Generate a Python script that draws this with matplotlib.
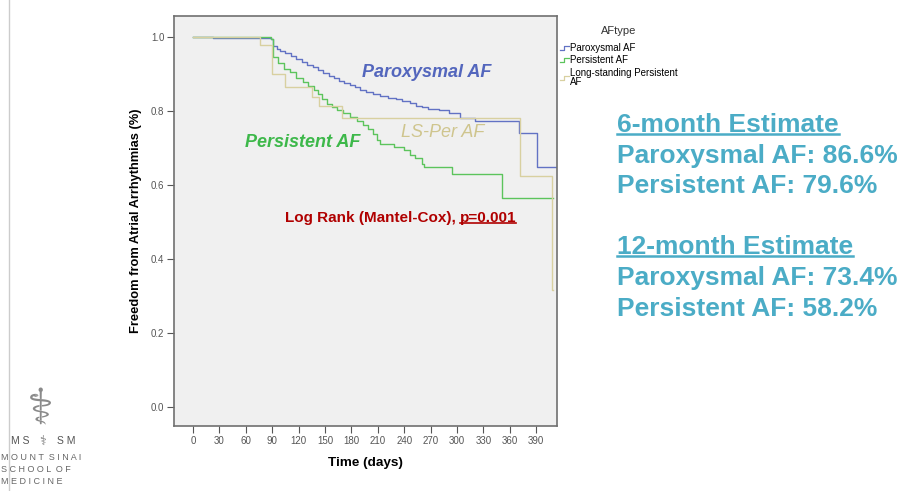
import matplotlib
matplotlib.use("Agg")
import matplotlib.pyplot as plt
from matplotlib.lines import Line2D
from matplotlib.legend_handler import HandlerBase

plt.rcParams['font.family'] = ['Liberation Sans', 'DejaVu Sans']

# Kaplan-Meier steps (days, freedom from AF)
parox_t = [0, 23, 89, 91, 95, 99, 105, 111, 117, 124, 130, 136, 142, 148, 154, 160, 166,
           172, 178, 184, 190, 197, 204, 212, 222, 231, 238, 246, 253, 260, 267, 280,
           291, 303, 320, 370, 391, 413]
parox_s = [1.0, 0.997, 0.994, 0.976, 0.968, 0.962, 0.956, 0.948, 0.940, 0.933, 0.925,
           0.918, 0.911, 0.903, 0.896, 0.890, 0.882, 0.876, 0.870, 0.864, 0.858, 0.851,
           0.846, 0.841, 0.836, 0.832, 0.828, 0.821, 0.815, 0.810, 0.806, 0.803, 0.796,
           0.780, 0.774, 0.740, 0.648, 0.648]

pers_t = [0, 89, 91, 97, 103, 110, 117, 125, 131, 137, 142, 147, 152, 158, 164, 171,
          178, 186, 193, 199, 204, 209, 213, 228, 240, 246, 252, 260, 262, 294, 351, 409]
pers_s = [1.0, 0.994, 0.945, 0.930, 0.915, 0.905, 0.890, 0.879, 0.868, 0.858, 0.845,
          0.832, 0.820, 0.810, 0.802, 0.794, 0.783, 0.772, 0.762, 0.752, 0.738, 0.722,
          0.710, 0.704, 0.695, 0.681, 0.672, 0.658, 0.650, 0.631, 0.564, 0.564]

lsper_t = [0, 76, 90, 104, 135, 143, 169, 372, 408, 409]
lsper_s = [1.0, 0.978, 0.900, 0.866, 0.839, 0.813, 0.780, 0.625, 0.316, 0.316]

group_names = ['Paroxysmal AF', 'Persistent AF', 'Long-standing Persistent\nAF']
group_colors = ['#6272C4', '#5CC45C', '#D8D0A0']

x_ticks = list(range(0, 391, 30))
y_ticks = [0.0, 0.2, 0.4, 0.6, 0.8, 1.0]

estimates = ['6-month Estimate', 'Paroxysmal AF: 86.6%', 'Persistent AF: 79.6%', '',
             '12-month Estimate', 'Paroxysmal AF: 73.4%', 'Persistent AF: 58.2%']

W, H = 916, 491
fig = plt.figure(figsize=(W / 100, H / 100), dpi=100)


def fx(px):
    return px / W


def fy(py):
    return 1 - py / H


ax = fig.add_axes([fx(174), fy(426), fx(557) - fx(174), fy(16) - fy(426)])
ax.set_facecolor('#F0F0F0')

for t, s, c in zip([parox_t, pers_t, lsper_t], [parox_s, pers_s, lsper_s], group_colors):
    ax.step(t, s, where='post', color=c, lw=1.0)

ax.set_xlim(-21.6, 413.6)
ax.set_ylim(-0.051, 1.057)
ax.set_xticks(x_ticks)
ax.set_yticks(y_ticks)
ax.set_yticklabels(['%.1f' % v for v in y_ticks])
ax.tick_params(direction='out', length=5, width=0.8, color='#555555',
               labelcolor='#555555', labelsize=7, pad=2)
for sp in ax.spines.values():
    sp.set_color('#707070')
    sp.set_linewidth(1.2)

ax.set_xlabel('Time (days)', fontsize=9.7, fontweight='bold', labelpad=8)
ax.set_ylabel('Freedom from Atrial Arrhythmias (%)', fontsize=9.3, fontweight='bold',
              labelpad=6)

# curve labels
ax.text(266, 0.905, 'Paroxysmal AF', color='#5366BD', fontsize=13, fontweight='bold',
        style='italic', ha='center', va='center')
ax.text(125, 0.716, 'Persistent AF', color='#3DB84A', fontsize=13, fontweight='bold',
        style='italic', ha='center', va='center')
ax.text(284, 0.743, 'LS-Per AF', color='#CFC58E', fontsize=13,
        style='italic', ha='center', va='center')


class StepHandler(HandlerBase):
    def create_artists(self, legend, orig_handle, xdescent, ydescent, width, height,
                       fontsize, trans):
        x0, x1 = -xdescent, -xdescent + width
        y0, y1 = -ydescent + height * 0.15, -ydescent + height * 0.75
        xm = x0 + width * 0.45
        ln = Line2D([x0, xm, xm, x1], [y0, y0, y1, y1], color=orig_handle.get_color(),
                    lw=0.9, transform=trans)
        return [ln]


handles = [Line2D([], [], color=c) for c in group_colors]
leg = ax.legend(handles, group_names, title='AFtype', loc='upper left',
                bbox_to_anchor=(0.998, 0.985), frameon=False, fontsize=7,
                title_fontsize=8, handlelength=0.9, handletextpad=0.15,
                labelspacing=0.25, borderaxespad=0,
                handler_map={Line2D: StepHandler()})
leg._legend_box.sep = 5
leg.get_title().set_color('#333333')
for tx in leg.get_texts():
    tx.set_linespacing(0.9)

# log rank text
lr = ax.text(104.6, 0.511, 'Log Rank (Mantel-Cox),', color='#B00000', fontsize=11,
             fontweight='bold', ha='left', va='center')
fig.canvas.draw()
rend = fig.canvas.get_renderer()
bb = lr.get_window_extent(rend)
pv = fig.text((bb.x1 + 4) / W, bb.y0 / H, 'p=0.001', color='#B00000',
              fontsize=11, fontweight='bold', ha='left', va='bottom')
fig.canvas.draw()
pb = pv.get_window_extent(rend)
fig.add_artist(Line2D([pb.x0 / W, pb.x1 / W], [(pb.y0 + 2) / H] * 2, color='#B00000', lw=1.2))

# estimate text block
line_y = [125, 156, 186, 216, 247, 278, 309]
for txt, yy in zip(estimates, line_y):
    if not txt:
        continue
    t = fig.text(fx(617), fy(yy), txt, color='#4BACC6', fontsize=19, fontweight='bold',
                 ha='left', va='center')
    if 'Estimate' in txt:
        fig.canvas.draw()
        b = t.get_window_extent(rend)
        fig.add_artist(Line2D([b.x0 / W, b.x1 / W], [(b.y0 + 3) / H] * 2,
                              color='#4BACC6', lw=1.8))

# slide border and logo
fig.add_artist(Line2D([fx(9), fx(9)], [0, 1], color='#CCCCCC', lw=1))
fig.text(fx(40), fy(411), '\u2695', fontsize=36, color='#8A8A8A', ha='center', va='center',
         family='DejaVu Sans')
fig.text(fx(20), fy(441), 'M S', fontsize=7.5, color='#555555', ha='center', va='center')
fig.text(fx(43), fy(441), '\u2695', fontsize=9, color='#777777', ha='center', va='center',
         family='DejaVu Sans')
fig.text(fx(66), fy(441), 'S M', fontsize=7.5, color='#555555', ha='center', va='center')
fig.text(fx(1), fy(458), 'M O U N T  S I N A I', fontsize=6.5, color='#666666', va='center')
fig.text(fx(1), fy(470), 'S C H O O L  O F', fontsize=6.5, color='#666666', va='center')
fig.text(fx(1), fy(482), 'M E D I C I N E', fontsize=6.5, color='#666666', va='center')

fig.savefig('out.png', dpi=100)
